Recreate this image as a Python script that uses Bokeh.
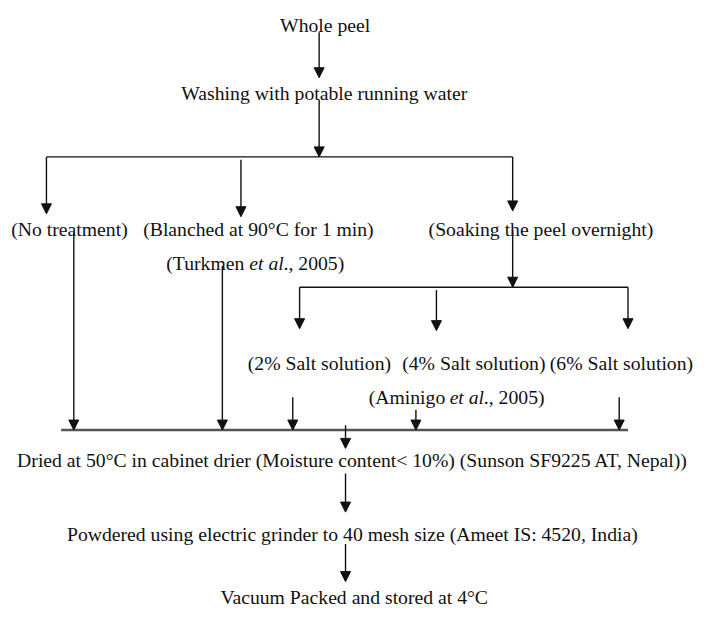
from bokeh.plotting import figure
from bokeh.models import Arrow, NormalHead, ColumnDataSource, Range1d
from bokeh.core.properties import value
from bokeh.embed import file_html
from bokeh.resources import INLINE

# ---- content (flowchart labels) ----
step_labels = [
    "Whole peel",
    "Washing with potable running water",
    "(No treatment)",
    "(Blanched at 90°C for 1 min)",
    "(Soaking the peel overnight)",
    "(2% Salt solution)",
    "(4% Salt solution)",
    "(6% Salt solution)",
    "Dried at 50°C in cabinet drier (Moisture content< 10%) (Sunson SF9225 AT, Nepal))",
    "Powdered using electric grinder to 40 mesh size (Ameet IS: 4520, India)",
    "Vacuum Packed and stored at 4°C",
]
ref_authors = ["(Turkmen ", "(Aminigo "]
ref_italic = "et al"
ref_year = "., 2005)"

# ---- layout (reference pixel space 709 x 628, y downward) ----
label_left = [286, 185, 11, 146, 438, 253, 411, 562, 17, 68, 225]
label_base = [32, 102, 243, 243, 243, 382, 382, 382, 483, 559, 624]

ref_left = [169.6, 376.7]
ref_base = [278, 417]
author_w = [85.0, 82.8]
italic_w = 35.0
Y_SHIFT = -6.5   # compensates the svg text baseline offset

# arrows: x0, y0, x1, y1
arrows = [
    (326, 33, 326, 80),
    (326, 103, 326, 162),
    (47, 162, 47, 221),
    (246, 165, 246, 224),
    (524, 162, 524, 218),
    (75, 240, 75, 445),
    (227, 275, 227, 445),
    (524, 238, 524, 297),
    (306, 297, 306, 340),
    (446, 300, 446, 342),
    (642, 297, 642, 340),
    (299, 411, 299, 445),
    (425, 424, 425, 445),
    (633, 411, 633, 445),
    (353, 440, 353, 464),
    (353, 490, 353, 530),
    (353, 563, 353, 602),
]
# plain connector lines
connectors = [(47, 162, 524, 162), (306, 297, 642, 297)]
collector = (62, 445, 642, 445)

FONT = value("Liberation Serif")
FS = "19.7px"
TXT = "#111111"

p = figure(width=693, height=612, x_range=Range1d(0, 709), y_range=Range1d(634, 0),
           output_backend="svg", toolbar_location=None, min_border=0)
p.axis.visible = False
p.grid.visible = False
p.outline_line_color = None
p.background_fill_color = "white"

p.segment(x0=[c[0] for c in connectors], y0=[c[1] for c in connectors],
          x1=[c[2] for c in connectors], y1=[c[3] for c in connectors],
          line_color="#111111", line_width=1.4)
p.segment(x0=[collector[0]], y0=[collector[1]], x1=[collector[2]], y1=[collector[3]],
          line_color="#555555", line_width=2.6)

src = ColumnDataSource(dict(x0=[a[0] for a in arrows], y0=[a[1] for a in arrows],
                            x1=[a[2] for a in arrows], y1=[a[3] for a in arrows]))
p.add_layout(Arrow(end=NormalHead(size=10, fill_color="#111111", line_color="#111111", line_width=1),
                   x_start="x0", y_start="y0", x_end="x1", y_end="y1", source=src,
                   line_color="#111111", line_width=1.4))

yb = [b + Y_SHIFT for b in label_base]
p.text(x=label_left, y=yb, text=step_labels, text_font=FONT, text_font_size=FS,
       text_align="left", text_baseline="alphabetic", text_color=TXT)

rb = [b + Y_SHIFT for b in ref_base]
p.text(x=ref_left, y=rb, text=ref_authors, text_font=FONT, text_font_size=FS,
       text_align="left", text_baseline="alphabetic", text_color=TXT)
p.text(x=[l + w for l, w in zip(ref_left, author_w)], y=rb, text=[ref_italic] * 2,
       text_font=FONT, text_font_size=FS, text_font_style="italic",
       text_align="left", text_baseline="alphabetic", text_color=TXT)
p.text(x=[l + w + italic_w for l, w in zip(ref_left, author_w)], y=rb, text=[ref_year] * 2,
       text_font=FONT, text_font_size=FS,
       text_align="left", text_baseline="alphabetic", text_color=TXT)

open("out.html", "w").write(file_html(p, INLINE))
